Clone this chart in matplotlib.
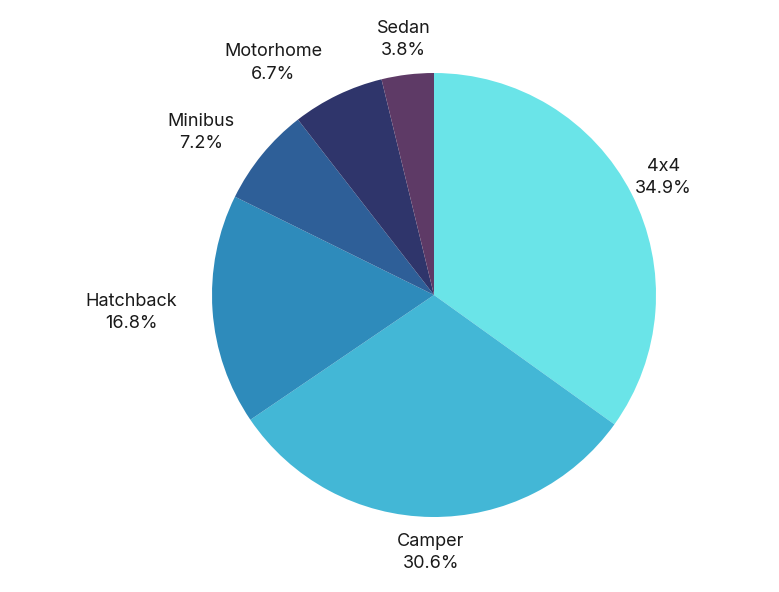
import numpy as np
import matplotlib
matplotlib.use("Agg")
import matplotlib.pyplot as plt

categories = ["4x4", "Camper", "Hatchback", "Minibus", "Motorhome", "Sedan"]
shares = [34.9, 30.6, 16.8, 7.2, 6.7, 3.8]
colors = ["#6AE4E8", "#43B7D6", "#2E8BBB", "#2E5F98", "#2F356B", "#5E3A66"]

plt.rcParams['font.family'] = ['Inter', 'DejaVu Sans']

W, H = 779, 592
fig = plt.figure(figsize=(W / 100, H / 100), dpi=100)
ax = fig.add_axes([0, 0, 1, 1])

cx, cy, R = 434, H - 295, 222
wedges, _ = ax.pie(shares, colors=colors, startangle=90, counterclock=False,
                   center=(cx, cy), radius=R, wedgeprops=dict(linewidth=0))
ax.set_xlim(0, W)
ax.set_ylim(0, H)
ax.set_aspect('equal')
ax.axis('off')

for w, cat, s in zip(wedges, categories, shares):
    ang = np.deg2rad((w.theta1 + w.theta2) / 2)
    x = cx + 1.16 * R * np.cos(ang)
    y = cy + 1.16 * R * np.sin(ang)
    ha = 'right' if np.cos(ang) < -0.3 else 'center'
    ax.text(x, y, f"{cat}\n{s:.1f}%", ha=ha, va='center', multialignment='center',
            fontsize=13, color='#1a1a1a', linespacing=1.4)

fig.savefig("out.png", dpi=100, facecolor='white')
